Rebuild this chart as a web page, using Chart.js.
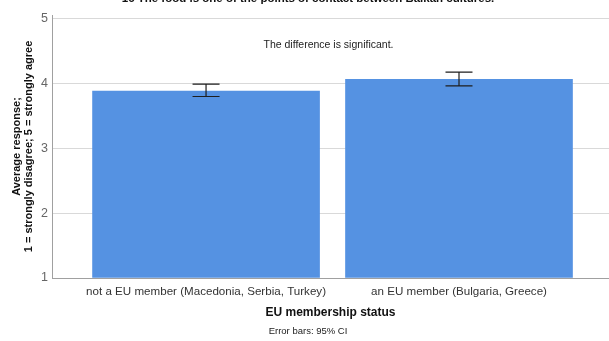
<!DOCTYPE html>
<html>
<head>
<meta charset="utf-8">
<script src="https://cdn.jsdelivr.net/npm/chart.js@4"></script>
<style>
  html, body { margin: 0; padding: 0; background: #fff; }
  canvas { display: block; }
</style>
</head>
<body>
<canvas id="c" width="609" height="341"></canvas>
<script>
const chartTitle = "16 The food is one of the points of contact between Balkan cultures.";
const categories = ["not a EU member (Macedonia, Serbia, Turkey)", "an EU member (Bulgaria, Greece)"];
const means = [3.88, 4.06];
const ciLower = [3.795, 3.96];
const ciUpper = [3.985, 4.17];
const yTicks = [1, 2, 3, 4, 5];
const note = "The difference is significant.";
const footnote = "Error bars: 95% CI";

const FONT = "'Liberation Sans', Arial, sans-serif";

const extras = {
  id: 'extras',
  afterDatasetsDraw(chart) {
    const ctx = chart.ctx;
    const xs = chart.scales.x, ys = chart.scales.y;
    ctx.save();
    ctx.strokeStyle = '#1e1e1e';
    ctx.lineWidth = 1.2;
    for (let i = 0; i < means.length; i++) {
      const x = xs.getPixelForValue(i);
      const y1 = ys.getPixelForValue(ciUpper[i]);
      const y2 = ys.getPixelForValue(ciLower[i]);
      ctx.beginPath();
      ctx.moveTo(x, y1); ctx.lineTo(x, y2);
      ctx.moveTo(x - 13.5, y1); ctx.lineTo(x + 13.5, y1);
      ctx.moveTo(x - 13.5, y2); ctx.lineTo(x + 13.5, y2);
      ctx.stroke();
    }
    ctx.restore();
  },
  afterDraw(chart) {
    const ctx = chart.ctx;
    const a = chart.chartArea;
    ctx.save();
    ctx.fillStyle = '#222';
    ctx.textAlign = 'center';
    ctx.textBaseline = 'middle';
    ctx.font = "10.5px " + FONT;
    ctx.fillText(note, (a.left + a.right) / 2 - 2, 45);
    ctx.font = "9.5px " + FONT;
    ctx.fillText(footnote, 308, 331);
    ctx.font = "bold 11.5px " + FONT;
    ctx.textBaseline = 'alphabetic';
    ctx.fillStyle = '#111';
    ctx.fillText(chartTitle, 308, 1.5);
    ctx.restore();
  }
};

new Chart(document.getElementById('c'), {
  type: 'bar',
  data: {
    datasets: [{
      data: means.map((v, i) => ({ x: i, y: v })),
      backgroundColor: '#5592e2',
      borderWidth: 0,
      barThickness: 227,
      base: 1
    }]
  },
  options: {
    responsive: false,
    animation: false,
    devicePixelRatio: 1,
    layout: { padding: { top: 15, left: 0, right: 0, bottom: 0 } },
    plugins: { legend: { display: false }, tooltip: { enabled: false }, title: { display: false } },
    scales: {
      x: {
        type: 'linear',
        offset: false,
        min: -0.609,
        max: 1.593,
        afterBuildTicks(s) { s.ticks = categories.map((c, i) => ({ value: i })); },
        afterFit(s) { s.height = 63; },
        grid: { display: false, drawTicks: false, offset: false },
        border: { display: true, color: '#a0a0a0', width: 1 },
        ticks: {
          autoSkip: false,
          maxRotation: 0,
          padding: 7,
          color: '#333',
          font: { family: FONT, size: 11.6 },
          callback: (v) => categories[v]
        },
        title: {
          display: true,
          text: 'EU membership status',
          color: '#111',
          font: { family: FONT, size: 12, weight: 'bold' },
          padding: { top: 0, bottom: 21 }
        }
      },
      y: {
        min: 1,
        max: 5.05,
        afterBuildTicks(s) { s.ticks = yTicks.map(v => ({ value: v })); },
        afterFit(s) { s.width = 52; },
        grid: {
          drawTicks: false,
          color: (c) => (c.tick && c.tick.value === 1) ? 'rgba(0,0,0,0)' : '#d9d9d9',
          lineWidth: 1
        },
        border: { display: true, color: '#a0a0a0', width: 1 },
        ticks: {
          padding: 4,
          color: '#666',
          font: { family: FONT, size: 12.5 }
        },
        title: {
          display: true,
          text: ['Average response;', '1 = strongly disagree; 5 = strongly agree'],
          color: '#111',
          font: { family: FONT, size: 11, weight: 'bold', lineHeight: 1.1 },
          padding: { top: 10.5, bottom: 0 }
        }
      }
    }
  },
  plugins: [extras]
});
</script>
</body>
</html>
